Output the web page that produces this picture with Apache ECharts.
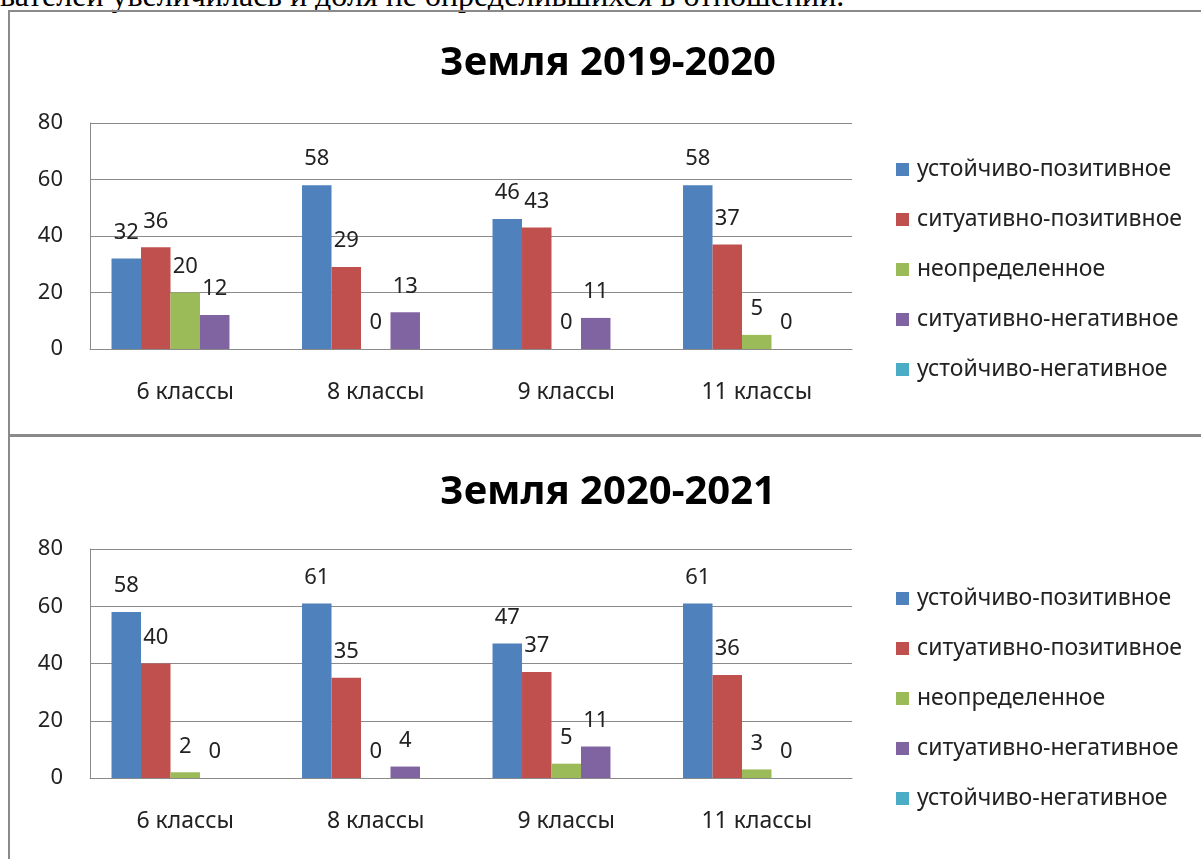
<!DOCTYPE html>
<html>
	<head>
		<meta charset="UTF-8">
		<title>Земля</title>
		<script src="https://cdn.jsdelivr.net/npm/echarts@6/dist/echarts.min.js" type="text/javascript" charset="utf-8"></script>
		<style>
			html, body { margin: 0; padding: 0; width: 1201px; height: 859px; overflow: hidden; background: #fff; }
			.cut { position: absolute; left: 0; top: -23px; white-space: nowrap; font-family: "Liberation Serif", serif; font-size: 32px; color: #000; }
			.box { position: absolute; border: 2px solid #8a8a8a; border-right: none; }
			.chart { position: absolute; left: 0; width: 1216px; }
		</style>
	</head>
	<body>
		<!-- обрезанная строка текста над диаграммой -->
		<div class="cut">вателей увеличилась и доля не определившихся в отношении.</div>
		<!-- рамки диаграмм -->
		<div class="box" style="left:8px;top:10px;width:1300px;height:423px;"></div>
		<div class="box" style="left:8px;top:434px;width:1300px;height:500px;border-bottom:none;"></div>
		<div id="chart1" class="chart" style="top:0;height:436px;"></div>
		<div id="chart2" class="chart" style="top:436px;height:423px;"></div>
	</body>
</html>

<script type="text/javascript">
	// категории (классы) и названия рядов
	var classes = ['6 классы', '8 классы', '9 классы', '11 классы'];
	var seriesNames = ['устойчиво-позитивное', 'ситуативно-позитивное', 'неопределенное', 'ситуативно-негативное', 'устойчиво-негативное'];

	// Земля 2019-2020
	var ustPoz2019 = [32, 58, 46, 58];
	var sitPoz2019 = [36, 29, 43, 37];
	var neopr2019 = [20, 0, 0, 5];
	var sitNeg2019 = [12, 13, 11, 0];
	var ustNeg2019 = [0, 0, 0, 0];

	// Земля 2020-2021
	var ustPoz2020 = [58, 61, 47, 61];
	var sitPoz2020 = [40, 35, 37, 36];
	var neopr2020 = [2, 0, 5, 3];
	var sitNeg2020 = [0, 4, 11, 0];
	var ustNeg2020 = [0, 0, 0, 0];

	// ось Y
	var yMin = 0, yMax = 80, yStep = 20;

	var colors = ['#4F81BD', '#C0504D', '#9BBB59', '#8064A2', '#4BACC6'];
	var font = '"Noto Sans", sans-serif';

	function makeOption(title, titleTop, gridTop, gridHeight, legendTop, rows) {
		var series = rows.map(function(row, i) {
			return {
				name: seriesNames[i],
				type: 'bar',
				data: row,
				barGap: 0,
				barCategoryGap: '22.6%',
				itemStyle: { color: colors[i] },
				label: {
					show: i < 4,            // у последнего ряда подписей нет
					position: 'top',
					distance: 15,
					color: '#222',
					fontFamily: font,
					fontSize: 22
				}
			};
		});
		return {
			animation: false,
			color: colors,
			title: {
				text: title,
				left: 'center',
				top: titleTop,
				padding: 0,
				textStyle: { fontFamily: font, fontSize: 40, fontWeight: 'bold', color: '#000' }
			},
			legend: {
				orient: 'vertical',
				left: 896,
				top: legendTop,
				padding: 0,
				itemWidth: 13,
				itemHeight: 13,
				itemGap: 27,
				icon: 'rect',
				data: seriesNames,
				textStyle: { fontFamily: font, fontSize: 23, lineHeight: 21, color: '#222', padding: [0, 0, 0, 3] }
			},
			grid: { left: 90, top: gridTop, width: 762, height: gridHeight, containLabel: false },
			xAxis: {
				type: 'category',
				data: classes,
				axisLine: { lineStyle: { color: '#8a8a8a', width: 1 } },
				axisTick: { show: false },
				axisLabel: { margin: 32, color: '#222', fontFamily: font, fontSize: 23 }
			},
			yAxis: {
				type: 'value',
				min: yMin,
				max: yMax,
				interval: yStep,
				axisLine: { show: true, lineStyle: { color: '#8a8a8a', width: 1 } },
				axisTick: { show: false },
				splitLine: { lineStyle: { color: '#8a8a8a', width: 1 } },
				axisLabel: { margin: 27, color: '#222', fontFamily: font, fontSize: 22 }
			},
			series: series
		};
	}

	var chart1 = echarts.init(document.getElementById('chart1'));
	chart1.setOption(makeOption('Земля 2019-2020', 44, 123, 226, 158,
		[ustPoz2019, sitPoz2019, neopr2019, sitNeg2019, ustNeg2019]));

	var chart2 = echarts.init(document.getElementById('chart2'));
	chart2.setOption(makeOption('Земля 2020-2021', 37, 113, 229, 151,
		[ustPoz2020, sitPoz2020, neopr2020, sitNeg2020, ustNeg2020]));
</script>
